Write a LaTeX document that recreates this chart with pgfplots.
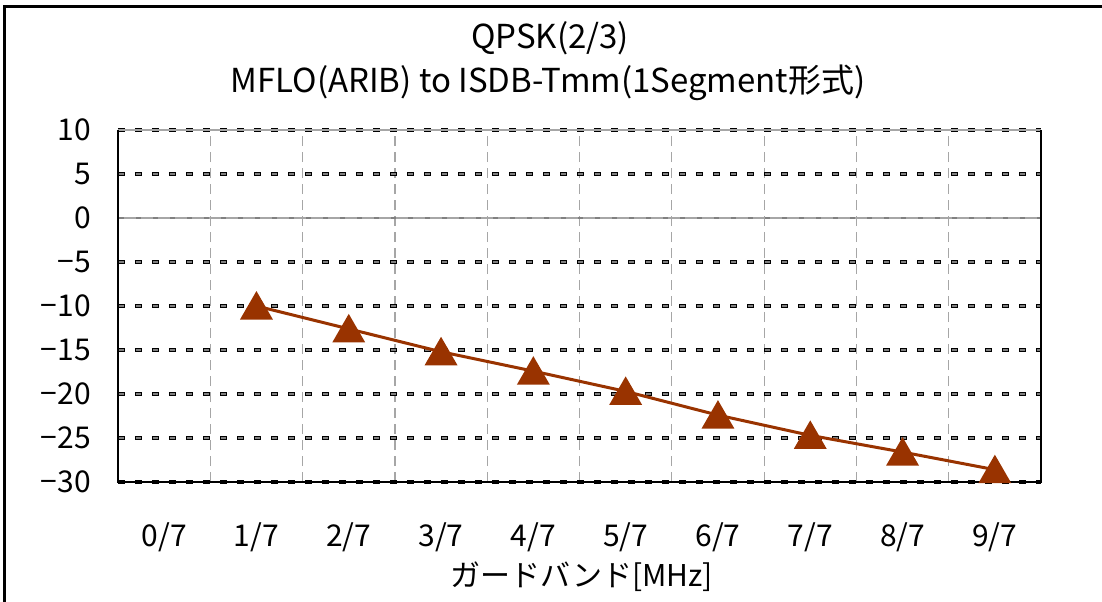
\documentclass[border=0pt]{standalone}
\usepackage{pgfplots}
\pgfplotsset{compat=1.18}
\usepackage{fontspec}
\setmainfont{Noto Sans CJK JP}
\definecolor{serie}{HTML}{993300}
\begin{document}
\begin{tikzpicture}
\useasboundingbox (-59pt,-59.5pt) rectangle (492pt,241pt);
\begin{axis}[
    at={(0,0)}, anchor=south west,
    scale only axis,
    width=461.5pt, height=176pt,
    xmin=-0.5, xmax=9.5,
    ymin=-30, ymax=10,
    xtick={0,...,9},
    xticklabels={0/7,1/7,2/7,3/7,4/7,5/7,6/7,7/7,8/7,9/7},
    minor xtick={0.5,1.5,...,8.5},
    ytick={-30,-25,-20,-15,-10,-5,5,10},
    yticklabels={−30,−25,−20,−15,−10,−5,5,10},
    extra y ticks={0},
    extra y tick labels={0},
    extra y tick style={major y grid style={solid, gray!70, line width=0.7pt}},
    ymajorgrids, xminorgrids,
    major tick length=0pt, minor tick length=0pt,
    major y grid style={black, line width=1.7pt, dash pattern=on 3.4pt off 5.1pt,
        postaction={draw, gray, line width=0.9pt, dash pattern=on 2.2pt off 6.3pt, dash phase=7.9pt}},
    minor x grid style={gray!70, line width=0.6pt, dash pattern=on 5pt off 3pt},
    axis line style={draw=none},
    tick label style={font=\fontsize{15}{18}\selectfont},
    yticklabel style={xshift=-10pt},
    xticklabel style={yshift=-17pt},
    clip=false,
]
\addplot[serie, line width=1.5pt, mark=triangle*, mark size=8pt,
    mark options={solid, fill=serie, draw=serie, yshift=-2pt}]
    coordinates {(1,-10) (2,-12.6) (3,-15.2) (4,-17.4) (5,-19.7) (6,-22.4) (7,-24.7) (8,-26.6) (9,-28.6)};
\draw[gray!70, line width=0.8pt] (rel axis cs:0,1) -- (rel axis cs:1,1);
\draw[black, line width=1pt] (rel axis cs:0,1) -- (rel axis cs:0,0) -- (rel axis cs:1,0) -- (rel axis cs:1,1);
\end{axis}
\node[font=\fontsize{16.5}{20}\selectfont] at (216pt,222pt) {QPSK(2/3)};
\node[font=\fontsize{16.5}{20}\selectfont] at (215pt,199.5pt) {MFLO(ARIB) to ISDB-Tmm(1Segment形式)};
\node[font=\fontsize{15}{18}\selectfont] at (232pt,-47.5pt) {ガードバンド[MHz]};
\draw[black, line width=1.5pt] (-56.5pt,-70pt) -- (-56.5pt,238pt) -- (500pt,238pt);
\end{tikzpicture}
\end{document}
